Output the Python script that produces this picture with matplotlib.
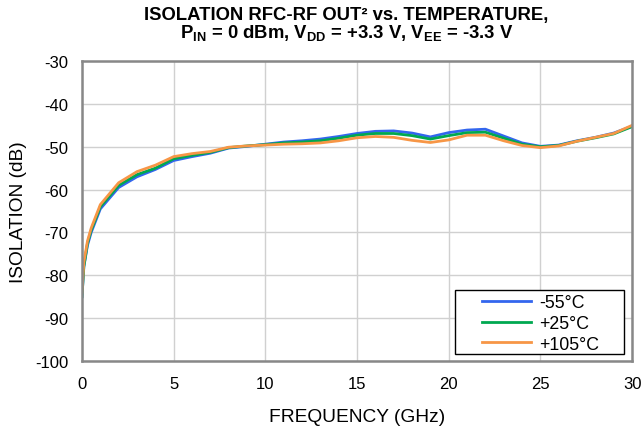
import matplotlib.pyplot as plt
from matplotlib.patches import Rectangle

plt.rcParams['font.family'] = ['Liberation Sans', 'DejaVu Sans']
plt.rcParams['axes.unicode_minus'] = False

freq = [0, 0.1, 0.3, 0.5, 1, 2, 3, 4, 5, 6, 7, 8, 9, 10, 11, 12, 13, 14, 15,
        16, 17, 18, 19, 20, 21, 22, 23, 24, 25, 26, 27, 28, 29, 30]
iso_m55 = [-85, -78, -73, -70, -64.5, -59.5, -57, -55.3, -53.2, -52.3, -51.5,
           -50.3, -49.9, -49.4, -48.9, -48.6, -48.2, -47.6, -46.9, -46.4, -46.3,
           -46.8, -47.7, -46.7, -46.1, -45.9, -47.5, -49.1, -49.9, -49.6, -48.6,
           -47.8, -46.8, -45.2]
iso_p25 = [-85, -78, -72.5, -69.5, -64, -59, -56.5, -55, -52.8, -52, -51.3,
           -50.2, -49.8, -49.5, -49.1, -48.9, -48.6, -48, -47.3, -46.9, -46.9,
           -47.4, -48.2, -47.4, -46.7, -46.6, -48.0, -49.4, -50.0, -49.7, -48.7,
           -47.9, -47.0, -45.3]
iso_p105 = [-84, -77, -72, -69, -63.5, -58.4, -55.8, -54.3, -52.3, -51.6, -51.1,
            -50.1, -49.8, -49.6, -49.4, -49.3, -49.1, -48.6, -47.9, -47.6, -47.8,
            -48.5, -49.0, -48.4, -47.3, -47.3, -48.6, -49.7, -50.2, -49.8, -48.7,
            -47.8, -46.9, -45.0]

labels = ['-55°C', '+25°C', '+105°C']
colors = ['#3366ee', '#00a850', '#f79646']

fig = plt.figure(figsize=(6.43, 4.31), dpi=100)
ax = fig.add_axes([0.1275, 0.160, 0.8555, 0.696])

for ys, lab, c in zip([iso_m55, iso_p25, iso_p105], labels, colors):
    ax.plot(freq, ys, color=c, lw=2, label=lab)

ax.set_xlim(0, 30)
ax.set_ylim(-100, -30)
ax.set_xticks(range(0, 31, 5))
ax.set_yticks(range(-100, -29, 10))
ax.tick_params(labelsize=12, length=0)
ax.tick_params(axis='y', pad=10)
ax.tick_params(axis='x', pad=11)
ax.grid(True, color='#d0d0d0', lw=1)
for s in ax.spines.values():
    s.set_color('#888888')
    s.set_linewidth(1.8)

ax.set_xlabel('FREQUENCY (GHz)', fontsize=13.8, labelpad=12)
ax.set_ylabel('ISOLATION (dB)', fontsize=13.8, labelpad=6)

title = ('ISOLATION RFC-RF OUT² vs. TEMPERATURE,\n'
         r'P$\mathregular{_{IN}}$ = 0 dBm, V$\mathregular{_{DD}}$ = +3.3 V, V$\mathregular{_{EE}}$ = -3.3 V')
fig.text(0.539, 1 - 7 / 431, title, ha='center', va='top', ma='center',
         fontsize=13.3, fontweight='bold', linespacing=0.93)

# legend box drawn separately so the padding matches
ax.add_patch(Rectangle((0.679, 0.022), 0.306, 0.215, transform=ax.transAxes,
                       facecolor='white', edgecolor='black', lw=1, zorder=4))
leg = ax.legend(loc='upper left', bbox_to_anchor=(0.727, 0.223), fontsize=12.8,
                frameon=False, handlelength=2.74, handletextpad=0.47,
                borderpad=0, borderaxespad=0, labelspacing=0.21)
leg.set_zorder(5)

fig.savefig('out.png', dpi=100)
